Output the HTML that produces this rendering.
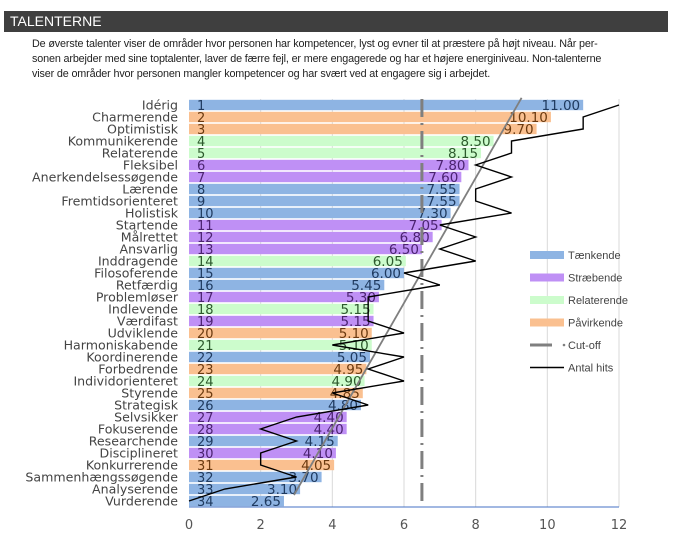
<!DOCTYPE html>
<html><head><meta charset="utf-8">
<style>
body{margin:0;background:#fff;width:682px;height:551px;overflow:hidden;font-family:"Liberation Sans",sans-serif;}
#hdr{position:absolute;left:4px;top:11px;width:664px;height:21px;background:#3f3f3f;color:#fff;font-size:14px;line-height:21px;padding-left:6px;box-sizing:border-box;}
#intro{position:absolute;left:32px;top:37px;width:632px;font-size:10.8px;line-height:15px;color:#222;letter-spacing:-0.15px;}
svg{position:absolute;left:0;top:0;}
</style></head><body>
<div id="hdr">TALENTERNE</div>
<div id="intro">De øverste talenter viser de områder hvor personen har kompetencer, lyst og evner til at præstere på højt niveau. Når per-<br>sonen arbejder med sine toptalenter, laver de færre fejl, er mere engagerede og har et højere energiniveau. Non-talenterne<br>viser de områder hvor personen mangler kompetencer og har svært ved at engagere sig i arbejdet.</div>
<svg id="chart" width="682" height="551"></svg>
<script>
const categories=["Idérig","Charmerende","Optimistisk","Kommunikerende","Relaterende","Fleksibel","Anerkendelsessøgende","Lærende","Fremtidsorienteret","Holistisk","Startende","Målrettet","Ansvarlig","Inddragende","Filosoferende","Retfærdig","Problemløser","Indlevende","Værdifast","Udviklende","Harmoniskabende","Koordinerende","Forbedrende","Individorienteret","Styrende","Strategisk","Selvsikker","Fokuserende","Researchende","Disciplineret","Konkurrerende","Sammenhængssøgende","Analyserende","Vurderende"];
const scores=[11.00,10.10,9.70,8.50,8.15,7.80,7.60,7.55,7.55,7.30,7.05,6.80,6.50,6.05,6.00,5.45,5.30,5.15,5.15,5.10,5.10,5.05,4.95,4.90,4.85,4.80,4.40,4.40,4.15,4.10,4.05,3.70,3.10,2.65];
const groups=["T","P","P","R","R","S","S","T","T","T","S","S","S","R","T","T","S","R","S","P","R","T","P","R","P","T","S","S","T","S","P","T","T","T"];
const hits=[12,11,11,9,9,8,9,8,8,9,7,8,7,8,6,7,5,5,5,6,4,6,5,6,4,5,3,2,3,2,2,3,1,0];
const cutoff=6.5;
const xTicks=[0,2,4,6,8,10,12];
const legendNames=["Tænkende","Stræbende","Relaterende","Påvirkende"];
const legendKeys=["T","S","R","P"];

const fill={T:"#8eb4e3",P:"#fac090",R:"#ccfccc",S:"#bf90f5"};
const txt={T:"#1f3a5f",P:"#6b3a10",R:"#2d5a2d",S:"#4b2370"};
const X0=189,X1=619,Y0=99,RH=12;
const xs=v=>X0+(v-0)/(12-0)*(X1-X0);
const yc=i=>Y0+RH*i+RH/2;
const svg=document.getElementById('chart');
const NS="http://www.w3.org/2000/svg";
function mk(t,a,p){const e=document.createElementNS(NS,t);for(const k in a)e.setAttribute(k,a[k]);(p||svg).appendChild(e);return e;}
const bottom=Y0+RH*categories.length;
xTicks.forEach(t=>{if(t>0){const g=mk('line',{x1:xs(t),x2:xs(t),y1:Y0,y2:bottom,stroke:"#d9d9d9","stroke-width":1});

}
const l=mk('text',{x:xs(t),y:bottom+22,"text-anchor":"middle","font-size":"13","fill":"#555","font-family":"DejaVu Sans,sans-serif"});l.textContent=t;

});
categories.forEach((c,i)=>{const g=groups[i];
const b=mk('rect',{x:X0,y:yc(i)-5.2,width:xs(scores[i])-X0,height:10.4,fill:fill[g]});


const lab=mk('text',{x:178,y:yc(i)+4.5,"text-anchor":"end","font-size":"12.6","fill":"#444","font-family":"DejaVu Sans,sans-serif"});lab.textContent=c;


const r=mk('text',{x:197,y:yc(i)+5,"font-size":"13","fill":txt[g],"font-family":"DejaVu Sans,sans-serif"});r.textContent=i+1;


const v=mk('text',{x:xs(scores[i])-3,y:yc(i)+5,"text-anchor":"end","font-size":"13.5","fill":txt[g],"font-family":"DejaVu Sans,sans-serif"});v.textContent=scores[i].toFixed(2);

});
const ax=mk('line',{x1:X0,x2:X1,y1:bottom,y2:bottom,stroke:"#4472c4","stroke-width":1});


const co=mk('line',{x1:xs(cutoff),x2:xs(cutoff),y1:Y0,y2:bottom,stroke:"#7f7f7f","stroke-width":3,"stroke-dasharray":"18,6,2,6"});


// linear trend of scores
const n=scores.length;let sx=0,sy=0,sxx=0,sxy=0;scores.forEach((h,i)=>{sx+=i;sy+=h;sxx+=i*i;sxy+=i*h;});
const m=(n*sxy-sx*sy)/(n*sxx-sx*sx),b0=(sy-m*sx)/n;
const ia=-0.6,ib=n-1.5;
const tr=mk('line',{x1:xs(b0+m*ia),y1:Y0+RH*(ia+0.5),x2:xs(b0+m*ib),y2:Y0+RH*(ib+0.5),stroke:"#7f7f7f","stroke-width":1.8});


const hl=mk('polyline',{points:hits.map((h,i)=>xs(h)+","+yc(i)).join(" "),fill:"none",stroke:"#000","stroke-width":1.4});


const LX=530;
legendKeys.forEach((k,j)=>{const y=255+j*22.5;
const r=mk('rect',{x:LX,y:y-4,width:34,height:8,fill:fill[k]});


const t=mk('text',{x:LX+38,y:y+4,"font-size":"11","fill":"#444"});t.textContent=legendNames[j];

});
const cy=255+4*22.5, hy=255+5*22.5;
const c1=mk('line',{x1:LX,x2:LX+22,y1:cy,y2:cy,stroke:"#7f7f7f","stroke-width":3});


const c2=mk('circle',{cx:LX+34,cy:cy,r:1.3,fill:"#7f7f7f"});


const ct=mk('text',{x:LX+38,y:cy+4,"font-size":"11","fill":"#444"});ct.textContent="Cut-off";


const h1=mk('line',{x1:LX,x2:LX+34,y1:hy,y2:hy,stroke:"#000","stroke-width":1.5});


const ht=mk('text',{x:LX+38,y:hy+4,"font-size":"11","fill":"#444"});ht.textContent="Antal hits";


</script>
</body></html>
